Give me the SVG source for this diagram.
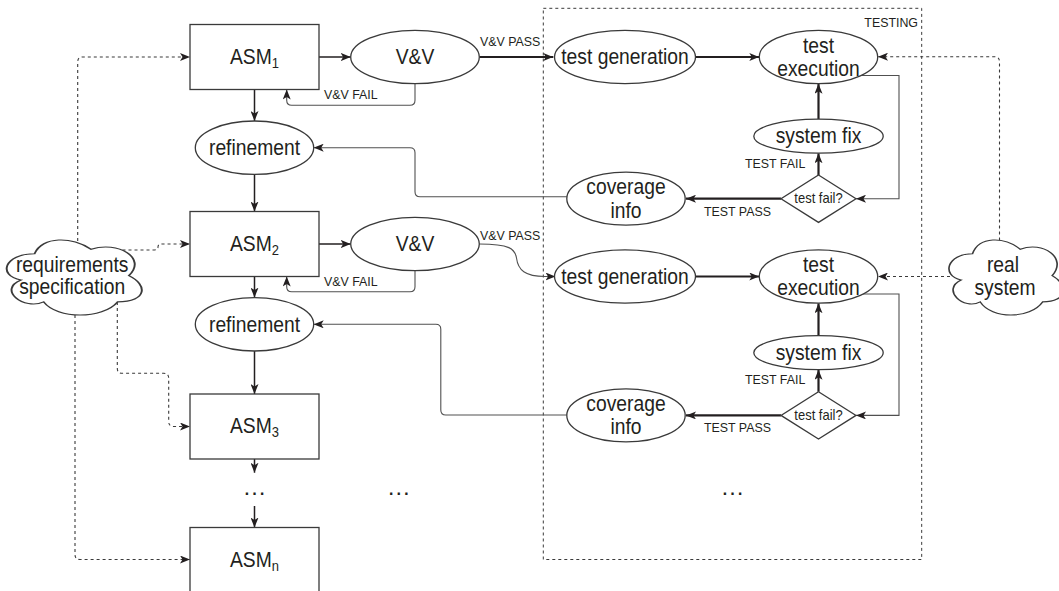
<svg xmlns="http://www.w3.org/2000/svg" width="1059" height="591" viewBox="0 0 1059 591">
  <style>
    .shape { fill: #fff; stroke: #3a3a3a; stroke-width: 1.3; }
    .cloud { fill: #fff; stroke: #3a3a3a; stroke-width: 1.3; vector-effect: non-scaling-stroke; }
    .txt { font-family: "Liberation Sans", Arial, Helvetica, sans-serif; font-size: 19.3px; fill: #231f20; text-anchor: middle; }
    .lbl { font-family: "Liberation Sans", Arial, Helvetica, sans-serif; font-size: 12.4px; fill: #231f20; }
    .mid { text-anchor: middle; font-size: 13px; }
    .end { text-anchor: end; }
    .sub { font-size: 13px; }
    .dots { font-family: "Liberation Sans", Arial, Helvetica, sans-serif; font-size: 24px; fill: #231f20; text-anchor: middle; }
    .e { fill: none; stroke: #231f20; stroke-width: 1.5; }
    .bold { stroke-width: 2.2; }
    .thin { stroke: #505050; stroke-width: 1.1; }
    .dash { fill: none; stroke: #3a3a3a; stroke-width: 1.1; stroke-dasharray: 3 3; }
    .frame { fill: none; stroke: #3a3a3a; stroke-width: 1; stroke-dasharray: 3 3; }
  </style>
  <defs>
    <marker id="arr" viewBox="0 0 10 8" refX="10" refY="4" markerWidth="10" markerHeight="8" markerUnits="userSpaceOnUse" orient="auto">
      <path d="M0,0 L10,4 L0,8 L2.5,4 Z" fill="#231f20"/>
    </marker>
    <path id="cloudShape" d="M25,25 C5,25 0,50 16,55 C0,66 18,90 31,80 C40,100 70,100 80,80 C100,80 100,60 87.5,50 C100,30 80,10 62.5,20 C50,5 30,5 25,25 Z"/>
  </defs>

  <rect width="1059" height="591" fill="#fff"/>

  <!-- testing frame -->
  <g id="testing">
    <rect class="frame" x="543.3" y="8.3" width="378.4" height="551.2"/>
    <text class="lbl end" transform="matrix(1 0 0 1.1 918 27.3)">TESTING</text>
  </g>

  <!-- connectors -->
  <g id="connectors">
    <!-- refinement chain -->
    <path class="e" d="M319,57 L350.7,57" marker-end="url(#arr)"/>
    <path class="e thin" d="M415,83.7 L415,100.3 Q415,105.3 410,105.3 L291.7,105.3 Q286.7,105.3 286.7,100.3 L286.7,89.5" marker-end="url(#arr)"/>
    <path class="e bold" d="M479.3,57 L553.3,57" marker-end="url(#arr)"/>
    <path class="e" d="M254.5,89.5 L254.5,121" marker-end="url(#arr)"/>
    <path class="e" d="M254.5,174.4 L254.5,211.5" marker-end="url(#arr)"/>
    <path class="e" d="M319,244 L350.7,244" marker-end="url(#arr)"/>
    <path class="e thin" d="M415,270.7 L415,286.7 Q415,291.7 410,291.7 L291.7,291.7 Q286.7,291.7 286.7,286.7 L286.7,276.5" marker-end="url(#arr)"/>
    <path class="e thin" d="M479.3,244 C510,244 515,249 516.5,258 C518,270 525,276.5 545,276.5 L555.5,276.5" marker-end="url(#arr)"/>
    <path class="e" d="M254.5,276.5 L254.5,297.6" marker-end="url(#arr)"/>
    <path class="e" d="M254.5,351 L254.5,394" marker-end="url(#arr)"/>
    <path class="e" d="M254.5,459 L254.5,472.7" marker-end="url(#arr)"/>
    <path class="e" d="M254.5,506 L254.5,527.5" marker-end="url(#arr)"/>

    <!-- testing loop 1 -->
    <path class="e bold" d="M695.5,57 L759.3,57" marker-end="url(#arr)"/>
    <path class="e bold" d="M818.5,119.2 L818.5,83.7" marker-end="url(#arr)"/>
    <path class="e bold" d="M818.5,175 L818.5,153.2" marker-end="url(#arr)"/>
    <path class="e thin" d="M861,75.5 L899,75.5 L899,198.7 L856,198.7" marker-end="url(#arr)"/>
    <path class="e bold" d="M781,198.7 L686,198.7" marker-end="url(#arr)"/>
    <path class="e thin" d="M566.8,196.7 L420,196.7 Q415,196.7 415,191.7 L415,152.7 Q415,147.7 410,147.7 L313.7,147.7" marker-end="url(#arr)"/>

    <!-- testing loop 2 -->
    <path class="e bold" d="M695.5,276.5 L759.3,276.5" marker-end="url(#arr)"/>
    <path class="e bold" d="M818.5,335.7 L818.5,303.2" marker-end="url(#arr)"/>
    <path class="e bold" d="M818.5,391.7 L818.5,369.7" marker-end="url(#arr)"/>
    <path class="e thin" d="M861,294 L899,294 L899,415.4 L856,415.4" marker-end="url(#arr)"/>
    <path class="e bold" d="M781,415.4 L686,415.4" marker-end="url(#arr)"/>
    <path class="e thin" d="M566.8,415 L445.8,415 Q440.8,415 440.8,410 L440.8,329.3 Q440.8,324.3 435.8,324.3 L313.7,324.3" marker-end="url(#arr)"/>

    <!-- requirements and real system links -->
    <path class="dash" d="M77.7,241 L77.7,62 Q77.7,57 82.7,57 L190,57" marker-end="url(#arr)"/>
    <path class="dash" d="M116.5,250 L153,250 Q158,250 158,247 Q158,244 162,244 L190,244" marker-end="url(#arr)"/>
    <path class="dash" d="M117.3,302 L117.3,368.3 Q117.3,373.3 122.3,373.3 L163.7,373.3 Q168.7,373.3 168.7,378.3 L168.7,421.5 Q168.7,426.5 173.7,426.5 L190,426.5" marker-end="url(#arr)"/>
    <path class="dash" d="M75,315 L75,554.5 Q75,559.5 80,559.5 L190,559.5" marker-end="url(#arr)"/>
    <path class="dash" d="M999.5,240.5 L999.5,61.7 Q999.5,56.7 994.5,56.7 L878,56.7" marker-end="url(#arr)"/>
    <path class="dash" d="M950,276.5 L878,276.5" marker-end="url(#arr)"/>

    <text class="lbl" transform="matrix(1 0 0 1.1 480 46)">V&amp;V PASS</text>
    <text class="lbl" transform="matrix(1 0 0 1.1 324 99)">V&amp;V FAIL</text>
    <text class="lbl" transform="matrix(1 0 0 1.1 480 240)">V&amp;V PASS</text>
    <text class="lbl" transform="matrix(1 0 0 1.1 324 285.5)">V&amp;V FAIL</text>
    <text class="lbl" transform="matrix(1 0 0 1.1 745 168)">TEST FAIL</text>
    <text class="lbl" transform="matrix(1 0 0 1.1 704 216)">TEST PASS</text>
    <text class="lbl" transform="matrix(1 0 0 1.1 745 384)">TEST FAIL</text>
    <text class="lbl" transform="matrix(1 0 0 1.1 704 431.7)">TEST PASS</text>
  </g>

  <!-- models -->
  <g id="asm1">
    <rect class="shape" x="190" y="24.5" width="129" height="65"/>
    <text class="txt" transform="matrix(1 0 0 1.1 254.5 63.8)">ASM<tspan class="sub" dy="3.4">1</tspan></text>
  </g>
  <g id="vv1">
    <ellipse class="shape" cx="415" cy="57" rx="64.3" ry="26.7"/>
    <text class="txt" transform="matrix(1 0 0 1.1 415 64.2)">V&amp;V</text>
  </g>
  <g id="refinement1">
    <ellipse class="shape" cx="254.5" cy="147.7" rx="59.2" ry="26.7"/>
    <text class="txt" transform="matrix(1 0 0 1.1 254.5 155)">refinement</text>
  </g>
  <g id="asm2">
    <rect class="shape" x="190" y="211.5" width="129" height="65"/>
    <text class="txt" transform="matrix(1 0 0 1.1 254.5 250.8)">ASM<tspan class="sub" dy="3.4">2</tspan></text>
  </g>
  <g id="vv2">
    <ellipse class="shape" cx="415" cy="244" rx="64.3" ry="26.7"/>
    <text class="txt" transform="matrix(1 0 0 1.1 415 251.2)">V&amp;V</text>
  </g>
  <g id="refinement2">
    <ellipse class="shape" cx="254.5" cy="324.3" rx="59.2" ry="26.7"/>
    <text class="txt" transform="matrix(1 0 0 1.1 254.5 331.6)">refinement</text>
  </g>
  <g id="asm3">
    <rect class="shape" x="190" y="394" width="129" height="65"/>
    <text class="txt" transform="matrix(1 0 0 1.1 254.5 433.3)">ASM<tspan class="sub" dy="3.4">3</tspan></text>
  </g>
  <g id="asm-more">
    <text class="dots" x="254.5" y="494.5">…</text>
  </g>
  <g id="asmn">
    <rect class="shape" x="190" y="527.5" width="129" height="65"/>
    <text class="txt" transform="matrix(1 0 0 1.1 254.5 566.8)">ASM<tspan class="sub" dy="3.4">n</tspan></text>
  </g>
  <g id="vv-more">
    <text class="dots" x="398.7" y="494.5">…</text>
  </g>

  <!-- testing loop 1 -->
  <g id="testgen1">
    <ellipse class="shape" cx="625" cy="57" rx="70.5" ry="26.7"/>
    <text class="txt" transform="matrix(1 0 0 1.1 625 64.2)">test generation</text>
  </g>
  <g id="testexec1">
    <ellipse class="shape" cx="818.5" cy="57" rx="59.2" ry="26.7"/>
    <text class="txt" transform="matrix(1 0 0 1.1 818.5 52.7)">test</text>
    <text class="txt" transform="matrix(1 0 0 1.1 818.5 75.9)">execution</text>
  </g>
  <g id="sysfix1">
    <ellipse class="shape" cx="818.5" cy="136.2" rx="64.7" ry="17"/>
    <text class="txt" transform="matrix(1 0 0 1.1 818.5 143.4)">system fix</text>
  </g>
  <g id="decision1">
    <polygon class="shape" points="818.5,175 856,198.7 818.5,222.4 781,198.7"/>
    <text class="lbl mid" transform="matrix(1 0 0 1.1 818.5 203.3)">test fail?</text>
  </g>
  <g id="coverage1">
    <ellipse class="shape" cx="626" cy="198.7" rx="59.2" ry="26.5"/>
    <text class="txt" transform="matrix(1 0 0 1.1 626 194.4)">coverage</text>
    <text class="txt" transform="matrix(1 0 0 1.1 626 217.6)">info</text>
  </g>

  <!-- testing loop 2 -->
  <g id="testgen2">
    <ellipse class="shape" cx="625" cy="276.5" rx="70.5" ry="26.7"/>
    <text class="txt" transform="matrix(1 0 0 1.1 625 283.7)">test generation</text>
  </g>
  <g id="testexec2">
    <ellipse class="shape" cx="818.5" cy="276.5" rx="59.2" ry="26.7"/>
    <text class="txt" transform="matrix(1 0 0 1.1 818.5 272.2)">test</text>
    <text class="txt" transform="matrix(1 0 0 1.1 818.5 295.4)">execution</text>
  </g>
  <g id="sysfix2">
    <ellipse class="shape" cx="818.5" cy="352.7" rx="64.7" ry="17"/>
    <text class="txt" transform="matrix(1 0 0 1.1 818.5 359.9)">system fix</text>
  </g>
  <g id="decision2">
    <polygon class="shape" points="818.5,391.7 856,415.4 818.5,439.1 781,415.4"/>
    <text class="lbl mid" transform="matrix(1 0 0 1.1 818.5 420)">test fail?</text>
  </g>
  <g id="coverage2">
    <ellipse class="shape" cx="626" cy="415.4" rx="59.2" ry="26.5"/>
    <text class="txt" transform="matrix(1 0 0 1.1 626 411.1)">coverage</text>
    <text class="txt" transform="matrix(1 0 0 1.1 626 434.3)">info</text>
  </g>
  <g id="test-more">
    <text class="dots" x="732.4" y="494.5">…</text>
  </g>

  <!-- clouds -->
  <g id="requirements">
    <use href="#cloudShape" class="cloud" transform="translate(-3.1,231.8) scale(1.508,0.876)"/>
    <text class="txt" transform="matrix(1 0 0 1.1 72.2 271.7)">requirements</text>
    <text class="txt" transform="matrix(1 0 0 1.1 72.2 294.3)">specification</text>
  </g>
  <g id="realsystem">
    <use href="#cloudShape" class="cloud" transform="translate(940.7,231.8) scale(1.274,0.876)"/>
    <text class="txt" transform="matrix(1 0 0 1.1 1003 271.7)">real</text>
    <text class="txt" transform="matrix(1 0 0 1.1 1005 294.5)">system</text>
  </g>
</svg>
